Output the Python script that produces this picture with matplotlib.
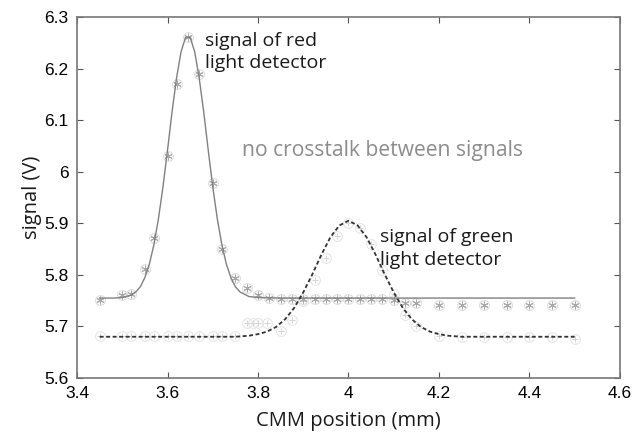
import matplotlib
matplotlib.use("Agg")
import matplotlib.pyplot as plt

# measured points, red light detector
red_x = [3.45, 3.50, 3.52, 3.55, 3.57, 3.60, 3.62, 3.645, 3.67, 3.70, 3.72, 3.75,
         3.775, 3.80, 3.825, 3.85, 3.875, 3.90, 3.925, 3.95, 3.975, 4.00, 4.025,
         4.05, 4.075, 4.10, 4.125, 4.15, 4.20, 4.25, 4.30, 4.35, 4.40, 4.45, 4.50]
red_y = [5.751, 5.761, 5.763, 5.811, 5.871, 6.030, 6.170, 6.261, 6.190, 5.978, 5.850, 5.794,
         5.775, 5.761, 5.755, 5.753, 5.753, 5.753, 5.753, 5.753, 5.753, 5.753, 5.753,
         5.753, 5.753, 5.752, 5.745, 5.745, 5.742, 5.742, 5.742, 5.742, 5.742, 5.742, 5.742]

# measured points, green light detector
green_x = [3.45, 3.50, 3.52, 3.55, 3.57, 3.60, 3.62, 3.645, 3.67, 3.70, 3.72, 3.75,
           3.775, 3.79, 3.80, 3.82, 3.85, 3.875, 3.90, 3.925, 3.95, 3.975, 4.00,
           4.025, 4.05, 4.075, 4.10, 4.125, 4.15, 4.20, 4.25, 4.30, 4.35, 4.40, 4.45, 4.50]
green_y = [5.681, 5.681, 5.681, 5.681, 5.681, 5.681, 5.681, 5.681, 5.681, 5.681, 5.681, 5.681,
           5.707, 5.707, 5.707, 5.706, 5.692, 5.712, 5.750, 5.790, 5.832, 5.876, 5.900,
           5.890, 5.860, 5.810, 5.762, 5.722, 5.700, 5.682, 5.680, 5.680, 5.680, 5.680, 5.680, 5.675]

# fitted curves
red_fit_x = [3.45, 3.48, 3.50, 3.52, 3.53, 3.54, 3.55, 3.56, 3.57, 3.58, 3.59, 3.60,
             3.61, 3.62, 3.63, 3.64, 3.65, 3.66, 3.67, 3.68, 3.69, 3.70, 3.71, 3.72,
             3.73, 3.74, 3.75, 3.76, 3.78, 3.80, 3.85, 4.50]
red_fit_y = [5.755, 5.755, 5.756, 5.761, 5.767, 5.777, 5.795, 5.821, 5.859, 5.909, 5.971, 6.042,
             6.116, 6.182, 6.233, 6.261, 6.261, 6.233, 6.182, 6.116, 6.042, 5.971, 5.909, 5.859,
             5.821, 5.795, 5.777, 5.767, 5.758, 5.756, 5.755, 5.755]

green_fit_x = [3.45, 3.75, 3.78, 3.80, 3.82, 3.84, 3.86, 3.88, 3.90, 3.92, 3.94, 3.96,
               3.98, 4.00, 4.02, 4.04, 4.06, 4.08, 4.10, 4.12, 4.14, 4.16, 4.18, 4.20,
               4.22, 4.25, 4.50]
green_fit_y = [5.680, 5.680, 5.682, 5.685, 5.690, 5.699, 5.714, 5.736, 5.766, 5.801, 5.839, 5.873,
               5.896, 5.905, 5.896, 5.873, 5.839, 5.801, 5.766, 5.736, 5.714, 5.699, 5.690, 5.685,
               5.682, 5.680, 5.680]

xticks = [3.4, 3.6, 3.8, 4.0, 4.2, 4.4, 4.6]
xtick_labels = ['3.4', '3.6', '3.8', '4', '4.2', '4.4', '4.6']
yticks = [5.6, 5.7, 5.8, 5.9, 6.0, 6.1, 6.2, 6.3]
ytick_labels = ['5.6', '5.7', '5.8', '5.9', '6', '6.1', '6.2', '6.3']

fig = plt.figure(figsize=(6.35, 4.38), dpi=100)
ax = fig.add_axes([0.1213, 0.137, 0.855, 0.824])

# faint markers as in the scanned figure
ax.plot(red_x, red_y, ls='none', marker='o', ms=7, mfc='none', mec='#dcdcdc', mew=0.8, zorder=2)
ax.plot(red_x, red_y, ls='none', marker=(6, 2, 0), ms=5.5, mec='#a8a8a8', mew=0.7, zorder=3)
ax.plot(green_x, green_y, ls='none', marker='o', ms=7, mfc='none', mec='#e6e6e6', mew=0.8, zorder=2)
ax.plot(green_x, green_y, ls='none', marker='+', ms=5, mec='#d4d4d4', mew=0.7, zorder=2)

# fits
ax.plot(red_fit_x, red_fit_y, color='#808080', lw=1.0, zorder=4)
ax.plot(green_fit_x, green_fit_y, color='#333333', lw=1.3, ls=(0, (2.2, 1.4)), zorder=4)

ax.set_xlim(3.4, 4.6)
ax.set_ylim(5.6, 6.3)
ax.set_xticks(xticks)
ax.set_xticklabels(xtick_labels)
ax.set_yticks(yticks)
ax.set_yticklabels(ytick_labels)
ax.tick_params(direction='in', length=4, width=0.8, color='#555555',
               top=True, right=True, labelsize=12.5, pad=6)
for lab in ax.get_xticklabels() + ax.get_yticklabels():
    lab.set_family(['Liberation Sans', 'DejaVu Sans'])
for sp in ax.spines.values():
    sp.set_color('#777777')
    sp.set_linewidth(1.2)

lbl = dict(family=['Open Sans', 'DejaVu Sans'], color='#1a1a1a')
ax.set_xlabel('CMM position (mm)', labelpad=7, fontsize=14.5, **lbl)
ax.set_ylabel('signal (V)', labelpad=2, fontsize=14.5, **lbl)

ax.text(3.683, 6.272, 'signal of red\nlight detector', ha='left', va='top',
        linespacing=1.3, fontsize=14, **lbl)
ax.text(4.07, 5.89, 'signal of green\nlight detector', ha='left', va='top',
        linespacing=1.3, fontsize=14, **lbl)
ax.text(3.765, 6.042, 'no crosstalk between signals', ha='left', va='center',
        color='#8c8c8c', fontsize=15.2, family=['Open Sans', 'DejaVu Sans'])

fig.savefig('out.png', dpi=100)
